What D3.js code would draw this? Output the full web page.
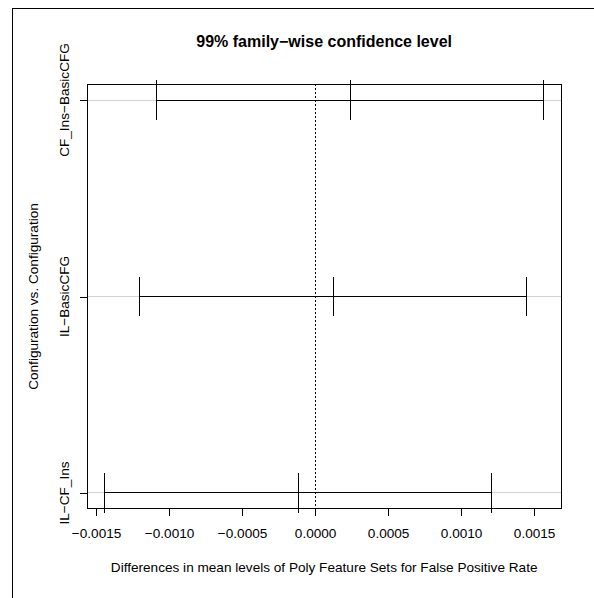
<!DOCTYPE html>
<html>
<head>
<meta charset="utf-8">
<script src="https://cdn.jsdelivr.net/npm/d3@7"></script>
<style>
  html, body { margin: 0; padding: 0; background: #fff; }
  text { font-family: "Liberation Sans", Arial, Helvetica, sans-serif; fill: #000; }
</style>
</head>
<body>
<svg id="chart" width="594" height="598"></svg>
<script>
// Tukey HSD comparisons (top to bottom)
const comparisons = ["CF_Ins-BasicCFG", "IL-BasicCFG", "IL-CF_Ins"];
const lower = [-0.001084, -0.001201, -0.001440];
const diffs = [0.000243, 0.000125, -0.000116];
const upper = [0.001564, 0.001445, 0.001208];
const xTicks = [-0.0015, -0.0010, -0.0005, 0.0000, 0.0005, 0.0010, 0.0015];

const title = "99% family\u2212wise confidence level";
const xTitle = "Differences in mean levels of Poly Feature Sets for False Positive Rate";
const yTitle = "Configuration vs. Configuration";

const labelSize = 13.6;
const svg = d3.select("#chart");
const box = { left: 87.3, right: 561, top: 84.3, bottom: 508.7 };

// R-style 4% padding around the data range
const lo = d3.min(lower), hi = d3.max(upper);
const padX = (hi - lo) * 0.04;
const x = d3.scaleLinear().domain([lo - padX, hi + padX]).range([box.left, box.right]);

// comparison positions: n .. 1 from top to bottom, padded 4%
const n = comparisons.length;
const yvals = comparisons.map((d, i) => n - i);
const padY = (n - 1) * 0.04;
const y = d3.scaleLinear().domain([1 - padY, n + padY]).range([box.bottom, box.top]);

// outer frame
svg.append("rect")
  .attr("x", 12.5).attr("y", 8.5).attr("width", 700).attr("height", 700)
  .attr("fill", "none").attr("stroke", "#000").attr("stroke-width", 1);

// grey reference lines at each comparison
svg.append("g").selectAll("line").data(yvals).join("line")
  .attr("x1", box.left).attr("x2", box.right)
  .attr("y1", d => y(d)).attr("y2", d => y(d))
  .attr("stroke", "#d3d3d3").attr("stroke-width", 1)
  .attr("shape-rendering", "crispEdges");

// zero line
svg.append("line")
  .attr("x1", x(0)).attr("x2", x(0))
  .attr("y1", box.top).attr("y2", box.bottom)
  .attr("stroke", "#000").attr("stroke-width", 1)
  .attr("stroke-dasharray", "2,2")
  .attr("shape-rendering", "crispEdges");

// intervals
const g = svg.append("g").attr("stroke", "#000").attr("stroke-width", 1).attr("shape-rendering", "crispEdges");
comparisons.forEach((c, i) => {
  const yy = y(yvals[i]);
  g.append("line").attr("x1", x(lower[i])).attr("x2", x(upper[i])).attr("y1", yy).attr("y2", yy);
  [lower[i], diffs[i], upper[i]].forEach(v => {
    g.append("line").attr("x1", x(v)).attr("x2", x(v))
      .attr("y1", y(yvals[i] - 0.1)).attr("y2", y(yvals[i] + 0.1));
  });
});

// plot box
svg.append("rect")
  .attr("x", box.left).attr("y", box.top)
  .attr("width", box.right - box.left).attr("height", box.bottom - box.top)
  .attr("fill", "none").attr("stroke", "#000").attr("stroke-width", 1)
  .attr("shape-rendering", "crispEdges");

// x axis
const xAxis = d3.axisBottom(x).tickValues(xTicks).tickSize(7).tickPadding(13)
  .tickFormat(d => d3.format(".4f")(d).replace("-", "\u2212"));
const gx = svg.append("g").attr("transform", `translate(0,${box.bottom})`).call(xAxis);
gx.select(".domain").remove();
gx.selectAll("line").attr("stroke", "#000").attr("shape-rendering", "crispEdges");
gx.selectAll("text").attr("font-size", labelSize).attr("font-family", "Liberation Sans, Arial, sans-serif");

// y axis
const yAxis = d3.axisLeft(y).tickValues(yvals).tickSize(7).tickFormat("");
const gy = svg.append("g").attr("transform", `translate(${box.left},0)`).call(yAxis);
gy.select(".domain").remove();
gy.selectAll("line").attr("stroke", "#000").attr("shape-rendering", "crispEdges");

svg.append("g").selectAll("text").data(comparisons).join("text")
  .attr("transform", (d, i) => `translate(69,${y(yvals[i])}) rotate(-90)`)
  .attr("text-anchor", "middle")
  .attr("font-size", labelSize)
  .text(d => d.replace("-", "\u2212"));

// titles
svg.append("text")
  .attr("x", (box.left + box.right) / 2).attr("y", 47)
  .attr("text-anchor", "middle").attr("font-size", 16).attr("font-weight", "bold")
  .text(title);

svg.append("text")
  .attr("x", (box.left + box.right) / 2).attr("y", 572)
  .attr("text-anchor", "middle").attr("font-size", labelSize)
  .text(xTitle);

svg.append("text")
  .attr("transform", `translate(38,${(box.top + box.bottom) / 2}) rotate(-90)`)
  .attr("text-anchor", "middle").attr("font-size", labelSize)
  .text(yTitle);
</script>
</body>
</html>
